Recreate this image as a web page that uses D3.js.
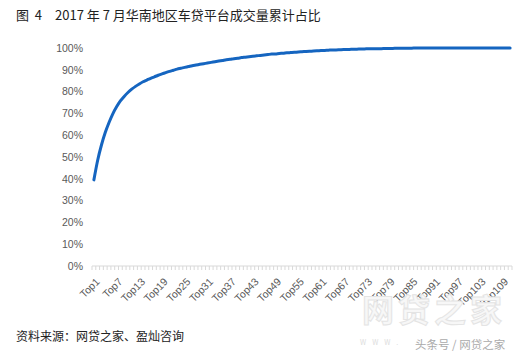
<!DOCTYPE html>
<html>
<head>
<meta charset="utf-8">
<script src="https://cdn.jsdelivr.net/npm/d3@7"></script>
<style>
  body { margin: 0; background: #fff; }
  svg { display: block; font-family: "Noto Sans CJK SC", "Microsoft YaHei", sans-serif; }
</style>
</head>
<body>
<div id="chart"></div>
<script>
// cumulative share of volume, Top1 .. Top111
const shares = [
  0.395, 0.485, 0.555, 0.612, 0.658, 0.698, 0.730, 0.757, 0.778, 0.796,
  0.811, 0.824, 0.835, 0.845, 0.853, 0.861, 0.868, 0.875, 0.881, 0.887,
  0.893, 0.898, 0.903, 0.907, 0.911, 0.915, 0.919, 0.922, 0.925, 0.928,
  0.931, 0.934, 0.937, 0.940, 0.943, 0.946, 0.948, 0.951, 0.953, 0.956,
  0.958, 0.960, 0.962, 0.964, 0.966, 0.968, 0.970, 0.972, 0.973, 0.975,
  0.976, 0.978, 0.979, 0.980, 0.982, 0.983, 0.984, 0.985, 0.986, 0.987,
  0.988, 0.989, 0.990, 0.991, 0.991, 0.992, 0.993, 0.993, 0.994, 0.994,
  0.995, 0.995, 0.996, 0.996, 0.997, 0.997, 0.997, 0.998, 0.998, 0.998,
  0.999, 0.999, 0.999, 0.999, 0.999, 1.000, 1.000, 1.000, 1.000, 1.000,
  1.000, 1.000, 1.000, 1.000, 1.000, 1.000, 1.000, 1.000, 1.000, 1.000,
  1.000, 1.000, 1.000, 1.000, 1.000, 1.000, 1.000, 1.000, 1.000, 1.000,
  1.000
];
const categories = shares.map((d, i) => "Top" + (i + 1));
const yTicks = [0, 0.1, 0.2, 0.3, 0.4, 0.5, 0.6, 0.7, 0.8, 0.9, 1.0];

const title = "图  4　2017 年 7 月华南地区车贷平台成交量累计占比";
const source = "资料来源：网贷之家、盈灿咨询";

const width = 530, height = 356;
const plot = { left: 92, right: 512, top: 48, bottom: 266 };

const svg = d3.select("#chart").append("svg")
  .attr("width", width)
  .attr("height", height);

var x = d3.scaleBand()
  .domain(categories)
  .range([plot.left, plot.right]);

var y = d3.scaleLinear()
  .domain([0, 1])
  .range([plot.bottom, plot.top]);

svg.append("text")
  .attr("x", 16)
  .attr("y", 20)
  .attr("font-size", 13)
  .attr("fill", "#222")
  .attr("xml:space", "preserve")
  .style("white-space", "pre")
  .text(title);

// y axis labels, no line
var yAxis = svg.append("g")
  .attr("transform", "translate(" + plot.left + ",0)")
  .call(d3.axisLeft(y).tickValues(yTicks).tickFormat(d3.format(".0%")).tickSize(0).tickPadding(9));
yAxis.select(".domain").remove();
yAxis.selectAll("text")
  .attr("font-size", 10.5)
  .attr("fill", "#595959")
  .style("font-family", "'Liberation Sans', Arial, sans-serif");

// x axis line + tick marks between categories
svg.append("line")
  .attr("x1", plot.left).attr("x2", plot.right)
  .attr("y1", plot.bottom).attr("y2", plot.bottom)
  .attr("stroke", "#d9d9d9");

var edges = categories.map(c => x(c)).concat([plot.right]);
svg.append("g").selectAll("line")
  .data(edges)
  .join("line")
  .attr("x1", d => d).attr("x2", d => d)
  .attr("y1", plot.bottom).attr("y2", plot.bottom + 4)
  .attr("stroke", "#d9d9d9");

// x labels every 6th category, rotated
var labelled = categories.filter((c, i) => i % 6 === 0);
svg.append("g").selectAll("text")
  .data(labelled)
  .join("text")
  .attr("transform", d => "translate(" + (x(d) + x.bandwidth() / 2 + 2) + "," + (plot.bottom + 12) + ") rotate(-45)")
  .attr("text-anchor", "end")
  .attr("dy", "0.6em")
  .attr("font-size", 10.5)
  .attr("fill", "#595959")
  .style("font-family", "'Liberation Sans', Arial, sans-serif")
  .text(d => d);

var line = d3.line()
  .x((d, i) => x(categories[i]) + x.bandwidth() / 2)
  .y(d => y(d))
  .curve(d3.curveMonotoneX);

svg.append("path")
  .datum(shares)
  .attr("d", line)
  .attr("fill", "none")
  .attr("stroke", "#1565c0")
  .attr("stroke-width", 3)
  .attr("stroke-linecap", "round");

svg.append("text")
  .attr("x", 16)
  .attr("y", 341)
  .attr("font-size", 12)
  .attr("fill", "#222")
  .text(source);

// watermark
svg.append("text")
  .attr("x", 362)
  .attr("y", 322)
  .attr("font-size", 32)
  .attr("letter-spacing", 4)
  .attr("font-weight", "bold")
  .attr("fill", "#f7f7f7")
  .attr("stroke", "#e4e4e4")
  .attr("stroke-width", 1)
  .text("网贷之家");

svg.append("text")
  .attr("x", 360)
  .attr("y", 345)
  .attr("font-size", 7)
  .attr("fill", "#ddd")
  .attr("letter-spacing", 6)
  .text("WWW.");

svg.append("text")
  .attr("x", 415)
  .attr("y", 349)
  .attr("font-size", 11.5)
  .attr("fill", "#aaa")
  .text("头条号 / 网贷之家");
</script>
</body>
</html>
